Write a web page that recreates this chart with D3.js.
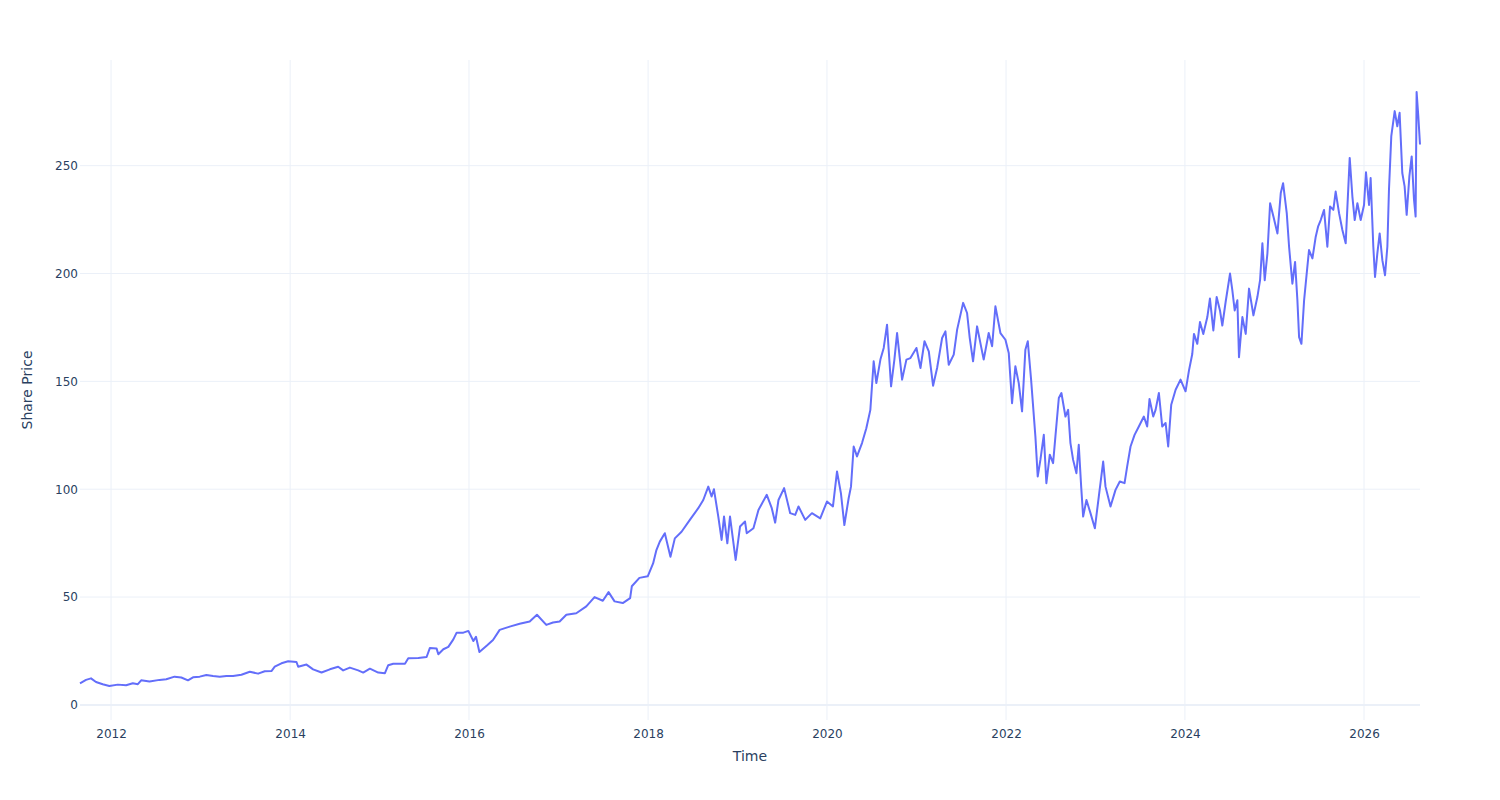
<!DOCTYPE html>
<html lang="en">
<head>
  <meta charset="UTF-8">
  <title>Share Price</title>
  <script src="https://d3js.org/d3.v7.min.js"></script>
  <style>
    body { margin: 0; background: #fff; }
    text { font-family: "DejaVu Sans", sans-serif; fill: #2a3f5f; }
  </style>
</head>
<body>
<div class="canvas"></div>
<script>
  // decimal year of each reading
  const years = [
    2011.653, 2011.720, 2011.776, 2011.832, 2011.907, 2011.981, 2012.075, 2012.168, 2012.243, 2012.299,
    2012.336, 2012.429, 2012.541, 2012.616, 2012.709, 2012.784, 2012.858, 2012.914, 2012.989, 2013.063,
    2013.138, 2013.213, 2013.287, 2013.362, 2013.455, 2013.549, 2013.642, 2013.716, 2013.791, 2013.828,
    2013.903, 2013.978, 2014.071, 2014.090, 2014.183, 2014.257, 2014.351, 2014.444, 2014.537, 2014.593,
    2014.668, 2014.761, 2014.817, 2014.892, 2014.985, 2015.060, 2015.097, 2015.153, 2015.284, 2015.321,
    2015.433, 2015.526, 2015.563, 2015.638, 2015.657, 2015.713, 2015.769, 2015.825, 2015.862, 2015.937,
    2015.993, 2016.049, 2016.078, 2016.116, 2016.200, 2016.268, 2016.342, 2016.454, 2016.565, 2016.677,
    2016.758, 2016.862, 2016.937, 2017.011, 2017.086, 2017.197, 2017.309, 2017.401, 2017.494, 2017.558,
    2017.625, 2017.717, 2017.799, 2017.818, 2017.903, 2017.996, 2018.056, 2018.093, 2018.131, 2018.187,
    2018.250, 2018.299, 2018.374, 2018.467, 2018.561, 2018.617, 2018.673, 2018.710, 2018.736, 2018.785,
    2018.822, 2018.849, 2018.886, 2018.916, 2018.979, 2019.028, 2019.084, 2019.103, 2019.178, 2019.234,
    2019.327, 2019.383, 2019.421, 2019.458, 2019.521, 2019.589, 2019.645, 2019.682, 2019.757, 2019.832,
    2019.925, 2020.000, 2020.067, 2020.112, 2020.156, 2020.194, 2020.242, 2020.268, 2020.298, 2020.335,
    2020.391, 2020.439, 2020.484, 2020.521, 2020.551, 2020.596, 2020.633, 2020.670, 2020.715, 2020.752,
    2020.782, 2020.838, 2020.886, 2020.931, 2020.998, 2021.043, 2021.088, 2021.136, 2021.184, 2021.229,
    2021.285, 2021.322, 2021.359, 2021.415, 2021.453, 2021.520, 2021.564, 2021.594, 2021.631, 2021.676,
    2021.750, 2021.806, 2021.844, 2021.881, 2021.937, 2021.993, 2022.030, 2022.067, 2022.104, 2022.142,
    2022.179, 2022.216, 2022.243, 2022.280, 2022.328, 2022.354, 2022.384, 2022.422, 2022.451, 2022.489,
    2022.526, 2022.552, 2022.590, 2022.619, 2022.664, 2022.694, 2022.720, 2022.750, 2022.787, 2022.813,
    2022.840, 2022.862, 2022.899, 2022.944, 2022.993, 2023.037, 2023.086, 2023.112, 2023.168, 2023.224,
    2023.272, 2023.325, 2023.354, 2023.392, 2023.437, 2023.485, 2023.541, 2023.578, 2023.604, 2023.646,
    2023.672, 2023.709, 2023.746, 2023.784, 2023.813, 2023.847, 2023.896, 2023.951, 2024.007, 2024.045,
    2024.082, 2024.101, 2024.138, 2024.168, 2024.205, 2024.250, 2024.279, 2024.317, 2024.354, 2024.391,
    2024.417, 2024.454, 2024.503, 2024.529, 2024.555, 2024.585, 2024.603, 2024.641, 2024.678, 2024.715,
    2024.764, 2024.808, 2024.838, 2024.864, 2024.890, 2024.920, 2024.950, 2024.987, 2025.032, 2025.069,
    2025.095, 2025.136, 2025.162, 2025.199, 2025.229, 2025.255, 2025.274, 2025.300, 2025.330, 2025.359,
    2025.385, 2025.423, 2025.460, 2025.486, 2025.516, 2025.553, 2025.590, 2025.620, 2025.657, 2025.683,
    2025.721, 2025.758, 2025.795, 2025.840, 2025.870, 2025.896, 2025.926, 2025.963, 2026.000, 2026.022,
    2026.056, 2026.074, 2026.104, 2026.123, 2026.149, 2026.175, 2026.205, 2026.235, 2026.261, 2026.279,
    2026.305, 2026.343, 2026.372, 2026.398, 2026.428, 2026.454, 2026.477, 2026.507, 2026.533, 2026.559,
    2026.577, 2026.588, 2026.607, 2026.626
  ];

  const prices = [
    10.0, 11.6, 12.3, 10.6, 9.6, 8.8, 9.4, 9.1, 10.0, 9.6,
    11.4, 10.8, 11.6, 11.9, 13.1, 12.7, 11.4, 12.8, 13.1, 13.9,
    13.4, 13.1, 13.4, 13.4, 14.0, 15.4, 14.5, 15.6, 15.7, 17.7,
    19.3, 20.2, 19.9, 17.7, 18.7, 16.5, 15.0, 16.5, 17.7, 16.0,
    17.3, 16.0, 15.0, 16.8, 15.0, 14.7, 18.4, 19.1, 19.1, 21.6,
    21.8, 22.2, 26.4, 26.1, 23.5, 25.8, 26.9, 30.4, 33.5, 33.5,
    34.3, 29.6, 31.6, 24.5, 27.5, 30.1, 34.8, 36.3, 37.6, 38.7,
    41.8, 37.1, 38.2, 38.7, 41.8, 42.5, 45.7, 50.0, 48.3, 52.3,
    48.0, 47.2, 49.5, 55.0, 58.9, 59.6, 65.6, 71.8, 75.7, 79.6,
    68.7, 77.2, 80.3, 85.8, 91.2, 95.0, 101.2, 96.6, 100.0, 87.3,
    76.5, 87.3, 74.9, 87.3, 67.2, 82.7, 85.0, 79.6, 81.9, 90.4,
    97.4, 91.2, 84.5, 95.0, 100.5, 88.9, 88.1, 92.0, 85.8, 88.9,
    86.5, 94.3, 92.0, 108.2, 98.1, 83.4, 95.8, 101.2, 119.8, 115.2,
    121.4, 128.3, 136.8, 159.3, 149.2, 160.1, 165.5, 176.3, 147.7, 160.1,
    172.4, 150.8, 160.1, 160.8, 165.5, 156.2, 168.6, 163.9, 148.0, 156.2,
    170.1, 173.2, 157.7, 162.4, 174.0, 186.4, 181.7, 170.1, 159.3, 175.5,
    160.1, 172.4, 166.3, 184.8, 172.4, 169.3, 163.2, 139.9, 157.0, 149.2,
    136.1, 164.7, 168.6, 150.8, 124.5, 105.9, 113.6, 125.2, 102.8, 116.0,
    112.1, 124.5, 142.3, 144.6, 133.7, 136.8, 121.4, 113.6, 107.4, 120.6,
    101.2, 87.3, 95.0, 88.9, 81.9, 96.6, 112.8, 101.2, 92.0, 99.7,
    103.6, 102.8, 110.5, 119.8, 125.2, 129.1, 133.7, 129.1, 141.8, 133.7,
    136.8, 144.6, 129.1, 130.7, 119.8, 139.2, 146.1, 150.8, 145.4, 155.0,
    162.7, 172.0, 167.4, 177.5, 172.0, 179.8, 188.4, 173.6, 189.1, 182.9,
    175.9, 186.8, 200.0, 192.2, 182.9, 187.6, 161.2, 179.8, 172.0, 193.0,
    180.6, 189.1, 196.9, 214.0, 196.9, 209.3, 232.6, 226.4, 218.6, 237.3,
    241.9, 228.0, 212.4, 195.3, 205.4, 187.6, 170.5, 167.4, 187.6, 200.0,
    210.9, 207.0, 217.1, 221.7, 224.8, 229.5, 212.4, 231.1, 229.5, 238.0,
    228.0, 220.2, 214.0, 253.6, 235.7, 224.8, 232.6, 224.8, 231.8, 246.9,
    231.8, 244.3, 212.4, 198.4, 209.3, 218.6, 206.2, 199.2, 212.4, 238.8,
    263.7, 275.3, 268.3, 274.5, 246.6, 240.4, 227.2, 245.0, 254.3, 234.2,
    226.4, 284.2, 273.0, 259.8
  ];

  const yTicks = [0, 50, 100, 150, 200, 250];
  const xTickYears = [2012, 2014, 2016, 2018, 2020, 2022, 2024, 2026];

  const width = 1500, height = 800;
  const margin = {top: 60, right: 80, bottom: 80, left: 80};

  // decimal year -> Date
  const toDate = y => {
    const yr = Math.floor(y);
    const a = Date.UTC(yr, 0, 1), b = Date.UTC(yr + 1, 0, 1);
    return new Date(a + (y - yr) * (b - a));
  };

  const data = years.map((y, i) => ({date: toDate(y), value: prices[i]}));

  const svg = d3.select('.canvas')
    .append('svg')
    .attr('width', width)
    .attr('height', height);

  const x = d3.scaleUtc()
    .domain(d3.extent(data, d => d.date))
    .range([margin.left, width - margin.right]);

  const y = d3.scaleLinear()
    .domain([-7, 299])
    .range([height - margin.bottom, margin.top]);

  const xTicks = xTickYears.map(yr => new Date(Date.UTC(yr, 0, 1)));

  // grid
  svg.append('g')
    .selectAll('line')
    .data(xTicks)
    .enter()
    .append('line')
    .attr('x1', d => x(d)).attr('x2', d => x(d))
    .attr('y1', margin.top).attr('y2', height - margin.bottom)
    .attr('stroke', '#EBF0F8')
    .attr('stroke-width', 1);

  svg.append('g')
    .selectAll('line')
    .data(yTicks)
    .enter()
    .append('line')
    .attr('x1', margin.left).attr('x2', width - margin.right)
    .attr('y1', d => y(d)).attr('y2', d => y(d))
    .attr('stroke', '#EBF0F8')
    .attr('stroke-width', d => d === 0 ? 2 : 1);

  // axes (labels only, plotly style)
  const xAxis = svg.append('g')
    .attr('transform', `translate(0, ${height - margin.bottom})`)
    .call(d3.axisBottom(x).tickValues(xTicks).tickFormat(d3.utcFormat('%Y')).tickSize(0).tickPadding(9));
  xAxis.select('.domain').remove();

  const yAxis = svg.append('g')
    .attr('transform', `translate(${margin.left}, 0)`)
    .call(d3.axisLeft(y).tickValues(yTicks).tickSize(0).tickPadding(2));
  yAxis.select('.domain').remove();

  svg.selectAll('.tick text')
    .style('font-size', '12px')
    .style('font-family', '"DejaVu Sans", sans-serif')
    .attr('fill', '#2a3f5f');

  // line
  svg.append('path')
    .datum(data)
    .attr('fill', 'none')
    .attr('stroke', '#636efa')
    .attr('stroke-width', 2)
    .attr('stroke-linejoin', 'round')
    .attr('d', d3.line().x(d => x(d.date)).y(d => y(d.value)));

  // axis titles
  svg.append('text')
    .attr('x', (margin.left + width - margin.right) / 2)
    .attr('y', 761)
    .attr('text-anchor', 'middle')
    .style('font-size', '14px')
    .text('Time');

  svg.append('text')
    .attr('transform', `translate(32, ${(margin.top + height - margin.bottom) / 2}) rotate(-90)`)
    .attr('text-anchor', 'middle')
    .style('font-size', '14px')
    .text('Share Price');
</script>
</body>
</html>
